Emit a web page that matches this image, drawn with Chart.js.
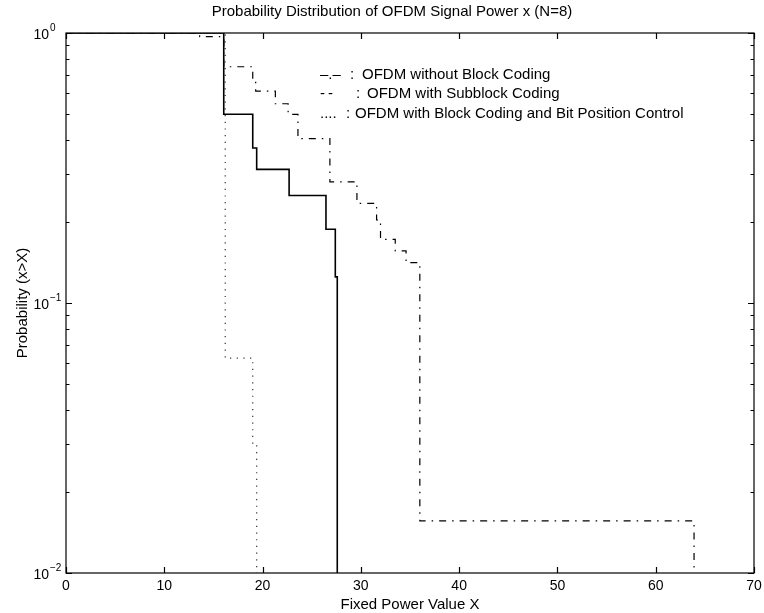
<!DOCTYPE html>
<html>
<head>
<meta charset="utf-8">
<script src="https://cdn.jsdelivr.net/npm/chart.js@4.4.1/dist/chart.umd.min.js"></script>
<style>
html,body{margin:0;padding:0;background:#fff;}
#c{display:block;width:764px;height:613px;}
</style>
</head>
<body>
<canvas id="c" width="764" height="613"></canvas>
<script>
// ---------- data ----------
const titleText = 'Probability Distribution of OFDM Signal Power x (N=8)';
const xAxisLabel = 'Fixed Power Value X';
const yAxisLabel = 'Probability (x>X)';

const xTickValues = [0, 10, 20, 30, 40, 50, 60, 70];
const yTickValues = [1, 0.1, 0.01];
const yTickExponents = ['0', '\u22121', '\u22122'];

const seriesNames = ['OFDM without Block Coding', 'OFDM with Subblock Coding', 'OFDM with Block Coding and Bit Position Control'];
const seriesMarks = ['\u2013.\u2013', '-\u2009-', '....'];

// OFDM without Block Coding (dash-dot)
const noCodingX = [0, 13.6, 16.05, 19.0, 19.3, 21.3, 22.6, 23.6, 26.85, 29.6, 31.6, 32.0, 33.5, 34.6, 36.0, 63.9];
const noCodingP = [1, 0.969, 0.75, 0.656, 0.609, 0.547, 0.5, 0.406, 0.281, 0.234, 0.203, 0.172, 0.156, 0.141, 0.0156, 0.001];

// OFDM with Subblock Coding (solid)
const subblockX = [0, 16.05, 19.0, 19.4, 22.7, 26.45, 27.4, 27.6];
const subblockP = [1, 0.5, 0.375, 0.3125, 0.25, 0.1875, 0.125, 0.001];

// OFDM with Block Coding and Bit Position Control (dotted)
const bitPosX = [0, 16.2, 19.0, 19.4];
const bitPosP = [1, 0.0625, 0.03, 0.001];

// ---------- helpers ----------
const FONT = '"Liberation Sans", Arial, Helvetica, sans-serif';
function zip(xs, ys) { return xs.map((x, i) => ({ x: x, y: ys[i] })); }

const decorPlugin = {
  id: 'decor',
  afterDraw(chart) {
    const ctx = chart.ctx;
    const ca = chart.chartArea;
    const xs = chart.scales.x, ys = chart.scales.y;
    ctx.save();
    ctx.strokeStyle = '#000';
    ctx.lineWidth = 1.2;
    // frame
    ctx.strokeRect(ca.left, ca.top, ca.right - ca.left, ca.bottom - ca.top);
    // inward x ticks (top and bottom)
    ctx.beginPath();
    xTickValues.forEach(v => {
      const px = Math.round(xs.getPixelForValue(v)) + 0.5;
      ctx.moveTo(px, ca.bottom); ctx.lineTo(px, ca.bottom - 6);
      ctx.moveTo(px, ca.top); ctx.lineTo(px, ca.top + 6);
    });
    // inward y ticks (log major + minor)
    for (let k = -2; k <= 0; k++) {
      for (let d = 1; d <= 9; d++) {
        if (k === 0 && d > 1) break;
        const v = d * Math.pow(10, k);
        const len = d === 1 ? 6 : 3.5;
        const py = Math.round(ys.getPixelForValue(v)) + 0.5;
        ctx.moveTo(ca.left, py); ctx.lineTo(ca.left + len, py);
        ctx.moveTo(ca.right, py); ctx.lineTo(ca.right - len, py);
      }
    }
    ctx.stroke();

    // y tick labels: 10 with superscript exponent
    ctx.fillStyle = '#000';
    yTickValues.forEach((v, i) => {
      const py = ys.getPixelForValue(v);
      ctx.font = '14px ' + FONT;
      ctx.textAlign = 'right';
      ctx.textBaseline = 'alphabetic';
      ctx.fillText('10', 49, py + 6);
      ctx.font = '10px ' + FONT;
      ctx.textAlign = 'left';
      ctx.fillText(yTickExponents[i], 50, py - 2);
    });

    // title
    ctx.font = '15px ' + FONT;
    ctx.textAlign = 'center';
    ctx.textBaseline = 'middle';
    ctx.fillText(titleText, 392, 12);

    // legend text
    const rows = [
      { y: 75, mark: 320, colon: 350, text: 362 },
      { y: 94, mark: 320, colon: 356, text: 367 },
      { y: 114, mark: 320, colon: 346, text: 355 }
    ];
    ctx.textAlign = 'left';
    rows.forEach((r, i) => {
      ctx.font = '15px ' + FONT;
      ctx.fillText(seriesMarks[i], r.mark, r.y);
      ctx.fillText(':', r.colon, r.y);
      ctx.fillText(seriesNames[i], r.text, r.y);
    });
    ctx.restore();
  }
};

new Chart(document.getElementById('c').getContext('2d'), {
  type: 'line',
  data: {
    datasets: [
      {
        label: seriesNames[0], data: zip(noCodingX, noCodingP),
        borderColor: '#000', borderWidth: 1.2, borderDash: [7, 6, 1.5, 6],
        stepped: 'before', pointRadius: 0, fill: false
      },
      {
        label: seriesNames[1], data: zip(subblockX, subblockP),
        borderColor: '#000', borderWidth: 1.6,
        stepped: 'before', pointRadius: 0, fill: false
      },
      {
        label: seriesNames[2], data: zip(bitPosX, bitPosP),
        borderColor: '#333', borderWidth: 1.2, borderDash: [1.2, 5.5],
        stepped: 'before', pointRadius: 0, fill: false
      }
    ]
  },
  options: {
    responsive: false,
    animation: false,
    devicePixelRatio: 1,
    layout: { padding: { top: 33, right: 10, left: 0, bottom: 0 } },
    plugins: { legend: { display: false }, title: { display: false }, tooltip: { enabled: false } },
    scales: {
      x: {
        type: 'linear', min: 0, max: 70,
        afterBuildTicks: s => { s.ticks = xTickValues.map(v => ({ value: v })); },
        ticks: { font: { family: FONT, size: 14 }, color: '#000', padding: 5, maxRotation: 0 },
        grid: { display: false, drawTicks: false },
        border: { display: false },
        title: { display: true, text: xAxisLabel, color: '#000', font: { family: FONT, size: 15, lineHeight: 1 }, padding: { top: 0, bottom: 0.5 } },
        afterFit: s => { s.height = 40; s.paddingLeft = 0; s.paddingRight = 0; }
      },
      y: {
        type: 'logarithmic', min: 0.01, max: 1,
        ticks: { display: false },
        grid: { display: false, drawTicks: false },
        border: { display: false },
        title: { display: true, text: yAxisLabel, color: '#000', font: { family: FONT, size: 15, lineHeight: 1 }, padding: { top: 15, bottom: 0 } },
        afterFit: s => { s.width = 66; }
      }
    }
  },
  plugins: [decorPlugin]
});
</script>
</body>
</html>
